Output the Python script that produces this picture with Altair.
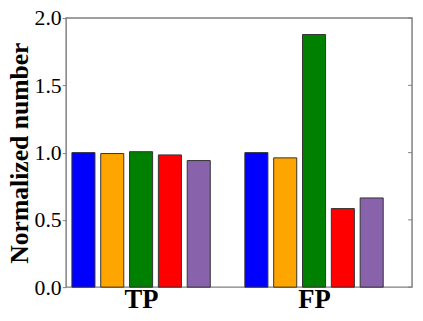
import altair as alt
import pandas as pd

groups = ["TP", "FP"]
series = ["s1", "s2", "s3", "s4", "s5"]
colors = ["#0000ff", "#ffa500", "#008000", "#ff0000", "#8862ab"]
tp_values = [1.000, 0.993, 1.007, 0.983, 0.941]
fp_values = [1.000, 0.961, 1.878, 0.584, 0.663]
y_ticks = [0.0, 0.5, 1.0, 1.5, 2.0]

W, H = 351, 273
GAP = 6  # slot index offset between groups
group_values = {"TP": tp_values, "FP": fp_values}

rows = []
for gi, g in enumerate(groups):
    for si, s in enumerate(series):
        rows.append({"group": g, "series": s, "pos": gi * GAP + si,
                     "value": group_values[g][si]})
df = pd.DataFrame(rows)

centers = [gi * GAP + (len(series) - 1) / 2 for gi in range(len(groups))]
label_expr = " : ".join(
    f"datum.value == {c} ? '{g}'" for c, g in zip(centers[:-1], groups[:-1])
) + f" : '{groups[-1]}'"

xscale = alt.Scale(domain=[-0.6, 11.4], nice=False, zero=False)
yscale = alt.Scale(domain=[0, 2], nice=False)
GRAY = "#808080"

xaxis = alt.Axis(values=centers, labelExpr=label_expr, title=None,
                 ticks=False, domain=False, grid=False,
                 labelFont="Liberation Serif", labelFontWeight="bold",
                 labelFontSize=27, labelColor="black", labelPadding=0)
yaxis = alt.Axis(values=y_ticks, format=".1f", title="Normalized number",
                 grid=False, domain=False, tickSize=4, tickColor=GRAY,
                 labelFont="Liberation Serif", labelFontSize=22,
                 labelColor="black", labelPadding=1,
                 titleFont="Liberation Serif", titleFontWeight="bold",
                 titleFontSize=26, titleColor="black", titlePadding=2)

bars = alt.Chart(df).mark_bar(stroke="#333333", strokeWidth=1).transform_calculate(
    x0="datum.pos - 0.4", x1="datum.pos + 0.4"
).encode(
    x=alt.X("x0:Q", scale=xscale, axis=xaxis),
    x2="x1:Q",
    y=alt.Y("value:Q", scale=yscale, axis=yaxis),
    y2=alt.datum(0),
    color=alt.Color("series:N", scale=alt.Scale(domain=series, range=colors), legend=None),
)

right_ticks = alt.Chart(pd.DataFrame({"value": y_ticks})).mark_rule(color=GRAY, strokeWidth=1).encode(
    y=alt.Y("value:Q", scale=yscale, axis=yaxis),
    x=alt.value(W - 4), x2=alt.value(W),
)

bottom_ticks = alt.Chart(pd.DataFrame({"x0": centers})).mark_rule(color="#444444", strokeWidth=1).encode(
    x=alt.X("x0:Q", scale=xscale, axis=xaxis),
    y=alt.value(H), y2=alt.value(H - 4),
)

chart = alt.layer(bars, right_ticks, bottom_ticks).properties(
    width=W, height=H,
    autosize=alt.AutoSizeParams(type="none"),
    padding={"left": 59, "top": 8, "right": 3, "bottom": 24},
).configure_view(stroke=GRAY, strokeWidth=1.5)

chart.save("out.html", embed_options={"renderer": "svg", "actions": False})
